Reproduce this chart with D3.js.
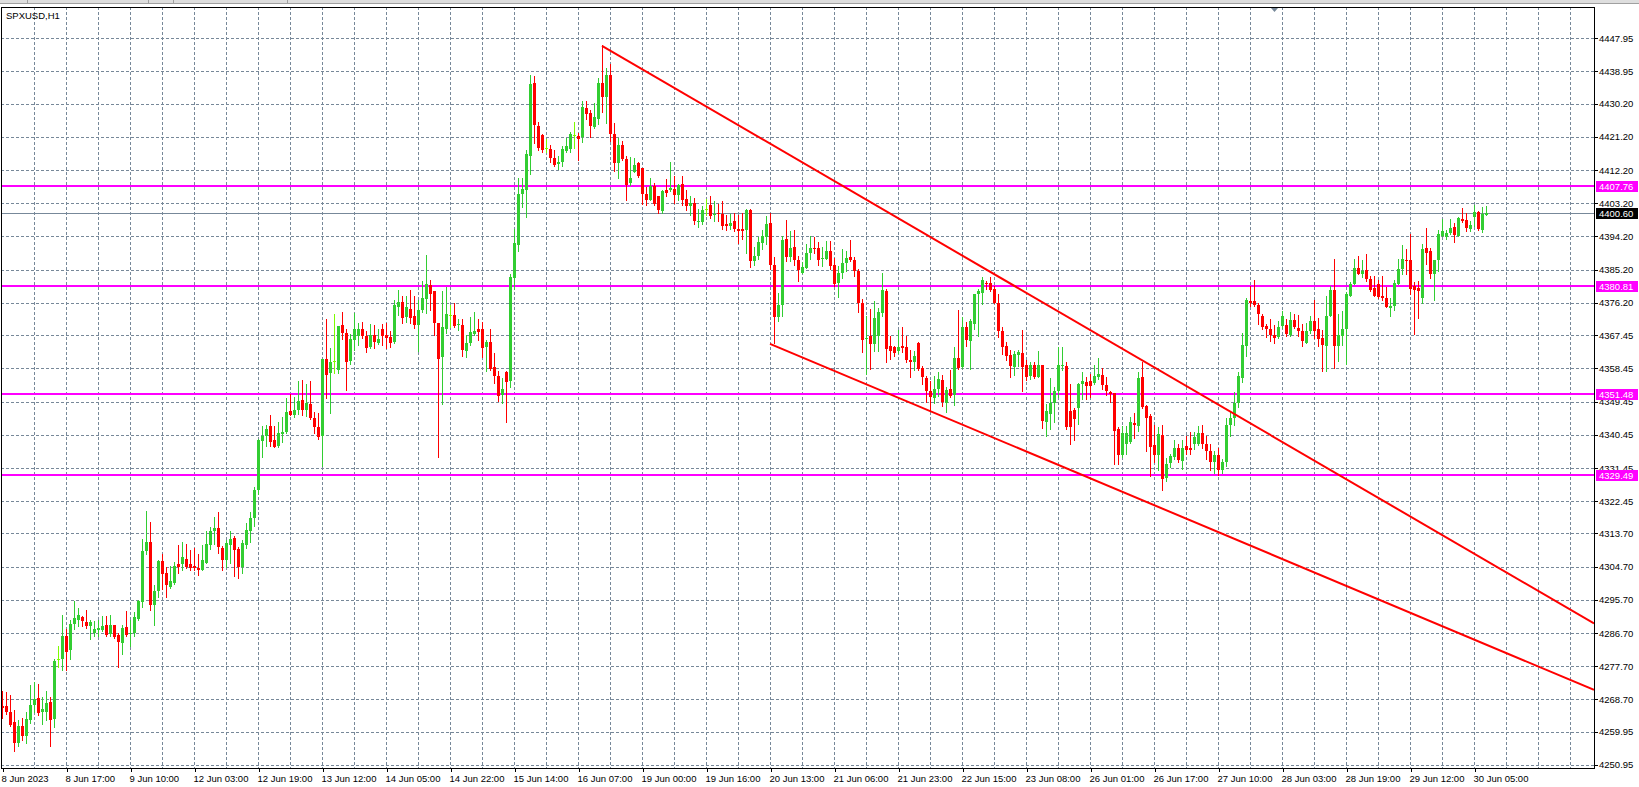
<!DOCTYPE html>
<html lang="en">
<head>
<meta charset="UTF-8">
<title>SPXUSD,H1</title>
<script src="https://cdnjs.cloudflare.com/ajax/libs/d3/7.8.5/d3.min.js"></script>
<style>
  body { margin: 0; background: #fff; overflow: hidden; }
  svg text { font-family: "Liberation Sans", Arial, sans-serif; font-size: 9.5px; fill: #000; }
  .grid line { stroke: #778899; stroke-width: 1; stroke-dasharray: 3,2; shape-rendering: crispEdges; }
  .wick { stroke-width: 1; shape-rendering: crispEdges; }
  .body { shape-rendering: crispEdges; }
  .level { stroke: #ff00ff; stroke-width: 2; shape-rendering: crispEdges; }
  .bid { stroke: #778899; stroke-width: 1; shape-rendering: crispEdges; }
  .trend { stroke: #ff0000; stroke-width: 2; fill: none; }
  .axis path { display: none; }
  .axis line { stroke: #000; shape-rendering: crispEdges; }
</style>
</head>
<body>
<div id="chart"></div>
<script>

// SPXUSD H1 candles, 8 Jun 2023 -> 30 Jun 2023 (one value per bar)
var opens = [
  4267.0,4266.8,4265.2,4262.5,4256.9,4261.4,4258.9,4263.2,4267.1,4269.0,
  4265.3,4265.4,4267.9,4263.4,4279.7,4279.6,4285.8,4282.2,4289.2,4290.3,
  4291.0,4289.8,4288.5,4286.7,4287.6,4287.6,4288.8,4286.5,4288.8,4286.1,
  4284.0,4288.3,4286.5,4286.7,4290.5,4295.1,4308.9,4311.5,4294.4,4298.2,
  4306.1,4303.1,4299.1,4300.2,4305.5,4305.5,4306.8,4305.3,4305.0,4304.4,
  4303.9,4305.7,4310.5,4314.3,4315.2,4309.8,4306.4,4310.5,4312.5,4309.5,
  4304.7,4310.5,4314.3,4317.9,4325.6,4338.7,4340.2,4342.7,4338.9,4337.3,
  4340.6,4341.1,4346.8,4345.7,4347.3,4349.9,4347.1,4348.7,4345.0,4342.5,
  4340.1,4361.0,4357.2,4360.5,4358.1,4370.1,4368.1,4360.4,4366.1,4367.2,
  4369.2,4367.2,4364.2,4367.4,4365.4,4369.2,4367.6,4366.9,4365.5,4375.0,
  4376.4,4372.4,4374.6,4372.6,4370.2,4374.4,4377.3,4381.0,4379.3,4370.8,
  4361.6,4369.2,4372.8,4373.0,4370.1,4370.3,4363.1,4365.2,4367.9,4369.0,
  4369.0,4364.3,4365.5,4358.9,4356.5,4351.1,4357.4,4355.0,4383.0,4392.0,
  4405.8,4406.9,4416.1,4435.7,4424.2,4421.7,4418.1,4418.0,4415.6,4413.9,
  4414.3,4417.5,4418.0,4421.6,4421.5,4421.1,4429.0,4427.8,4424.0,4426.1,
  4435.7,4432.0,4438.0,4422.0,4414.0,4419.0,4415.2,4408.7,4411.8,4414.1,
  4412.7,4405.7,4404.2,4407.8,4405.1,4401.0,4406.9,4406.9,4407.0,4405.5,
  4408.5,4404.3,4402.4,4403.4,4398.0,4398.0,4401.6,4402.8,4399.9,4400.7,
  4400.3,4397.7,4397.1,4398.3,4396.1,4396.1,4395.9,4401.5,4387.5,4389.0,
  4392.5,4394.1,4397.9,4386.6,4372.5,4375.5,4393.4,4388.7,4391.4,4387.7,
  4384.4,4385.7,4389.6,4391.1,4391.1,4388.0,4388.0,4390.4,4386.6,4381.5,
  4384.4,4387.1,4388.7,4387.7,4384.8,4376.3,4366.3,4367.2,4365.0,4367.2,
  4373.4,4379.4,4364.5,4364.3,4363.1,4364.4,4364.3,4360.8,4360.3,4365.3,
  4358.5,4355.8,4352.4,4350.3,4352.8,4355.3,4349.0,4352.8,4351.2,4361.3,
  4358.8,4369.7,4365.8,4370.4,4378.5,4378.8,4381.7,4381.5,4379.9,4376.3,
  4368.5,4364.4,4362.2,4358.8,4362.1,4362.6,4359.4,4356.4,4359.4,4356.2,
  4359.4,4344.0,4346.2,4349.0,4352.2,4359.0,4359.2,4347.0,4347.3,4347.6,
  4354.2,4354.8,4354.9,4354.4,4356.2,4356.7,4354.0,4352.1,4351.9,4341.9,
  4335.1,4337.9,4338.5,4343.7,4342.8,4356.2,4348.2,4345.5,4337.6,4334.9,
  4340.3,4328.8,4332.8,4334.4,4337.0,4333.3,4337.3,4337.0,4337.9,4338.0,
  4341.0,4338.0,4336.0,4333.0,4335.0,4331.0,4333.0,4343.0,4345.0,4349.0,
  4355.9,4364.6,4376.8,4376.8,4375.7,4372.6,4369.9,4369.2,4367.6,4367.0,
  4369.9,4370.1,4367.6,4371.5,4369.5,4368.6,4365.4,4368.5,4371.2,4369.0,
  4366.7,4364.6,4372.6,4379.6,4364.6,4367.2,4369.2,4378.2,4381.4,4385.7,
  4383.9,4385.2,4382.7,4380.3,4381.4,4378.0,4377.6,4374.8,4375.3,4381.4,
  4385.4,4387.9,4387.9,4380.7,4380.3,4377.5,4391.1,4390.2,4383.9,4387.7,
  4394.4,4394.1,4395.1,4396.8,4394.4,4398.9,4398.7,4396.2,4399.6,4400.8,
  4396.0,4399.9
];
var highs = [
  4271.1,4270.7,4269.8,4265.9,4263.2,4263.7,4265.4,4272.5,4273.4,4272.8,
  4269.5,4270.9,4269.5,4279.7,4283.1,4291.7,4287.8,4290.3,4295.5,4293.4,
  4291.4,4293.0,4290.3,4290.1,4290.3,4291.2,4291.2,4291.5,4289.0,4286.7,
  4288.8,4292.6,4290.3,4292.4,4295.6,4312.3,4319.9,4316.7,4299.8,4306.5,
  4308.2,4304.6,4305.0,4305.9,4310.5,4311.3,4310.9,4309.1,4309.8,4308.0,
  4310.7,4314.5,4315.4,4318.1,4319.6,4310.2,4312.0,4314.3,4313.1,4310.0,
  4311.8,4316.5,4319.5,4326.2,4339.3,4342.7,4343.0,4345.7,4342.7,4343.9,
  4345.4,4350.5,4351.5,4350.8,4355.1,4355.4,4354.1,4355.0,4346.6,4346.4,
  4360.9,4371.7,4364.0,4373.3,4369.9,4373.8,4369.2,4367.9,4373.5,4370.8,
  4371.1,4368.5,4370.6,4370.3,4369.2,4370.6,4370.8,4368.5,4377.1,4379.8,
  4378.2,4378.2,4379.8,4378.2,4376.9,4382.1,4389.3,4382.5,4379.4,4370.8,
  4379.4,4380.4,4375.5,4376.2,4371.7,4371.9,4367.6,4372.3,4373.8,4371.7,
  4371.0,4366.1,4369.0,4362.5,4357.7,4355.9,4357.7,4384.1,4396.2,4410.0,
  4410.0,4417.7,4438.0,4437.7,4425.3,4422.0,4420.6,4418.9,4417.7,4415.9,
  4418.6,4420.8,4422.6,4425.3,4422.2,4430.8,4430.8,4428.5,4430.3,4437.1,
  4446.0,4440.0,4441.0,4425.0,4421.0,4420.0,4415.9,4415.7,4415.5,4414.4,
  4412.7,4407.6,4410.1,4408.7,4405.3,4406.9,4409.8,4414.5,4410.7,4408.5,
  4410.7,4406.9,4405.2,4404.6,4401.6,4402.4,4404.3,4405.1,4403.7,4403.0,
  4403.7,4400.1,4400.4,4400.7,4400.1,4400.7,4401.6,4401.6,4391.4,4394.1,
  4395.9,4399.7,4400.7,4388.7,4378.8,4394.4,4398.6,4395.6,4395.9,4388.9,
  4387.2,4392.2,4394.4,4394.1,4392.6,4391.4,4392.9,4392.9,4388.4,4386.2,
  4390.7,4390.2,4393.2,4388.7,4385.3,4377.3,4372.6,4374.5,4376.7,4374.9,
  4384.2,4380.0,4367.2,4364.5,4368.8,4369.7,4367.2,4363.3,4363.1,4365.5,
  4359.0,4356.4,4354.9,4356.4,4357.6,4356.7,4353.5,4357.9,4364.3,4374.3,
  4372.4,4371.0,4371.9,4378.5,4380.1,4383.1,4382.2,4383.1,4380.8,4378.5,
  4369.7,4365.5,4363.3,4363.1,4363.3,4368.8,4360.6,4360.3,4360.3,4363.1,
  4359.4,4348.8,4355.8,4353.5,4364.3,4364.3,4360.1,4354.2,4347.6,4354.4,
  4357.6,4356.2,4357.0,4359.4,4361.3,4358.5,4356.2,4352.4,4351.9,4342.6,
  4342.8,4342.8,4345.3,4346.4,4357.6,4360.3,4348.5,4346.2,4343.1,4342.6,
  4343.1,4334.2,4335.3,4339.1,4338.0,4339.1,4340.1,4341.2,4341.2,4342.8,
  4343.0,4340.0,4338.0,4336.0,4337.0,4334.0,4345.0,4347.0,4352.0,4357.4,
  4368.1,4377.5,4380.7,4382.5,4376.2,4373.3,4370.6,4371.9,4370.3,4371.2,
  4373.9,4371.9,4373.7,4373.3,4372.9,4370.6,4370.8,4372.6,4377.1,4372.1,
  4368.8,4378.0,4380.7,4388.1,4373.3,4373.9,4379.1,4381.8,4388.1,4389.0,
  4387.9,4389.5,4383.4,4383.6,4382.5,4383.6,4380.5,4377.5,4382.5,4388.1,
  4392.0,4390.8,4395.0,4381.9,4382.0,4392.3,4396.5,4391.1,4387.7,4395.9,
  4398.9,4395.9,4398.9,4397.8,4399.6,4401.9,4400.5,4398.3,4402.8,4401.0,
  4402.2,4402.5
];
var lows = [
  4263.6,4264.8,4261.4,4254.7,4256.2,4257.6,4256.9,4262.3,4265.3,4264.6,
  4262.1,4263.0,4256.2,4261.2,4277.5,4276.7,4276.7,4279.7,4287.8,4288.5,
  4288.5,4288.1,4285.0,4285.8,4286.0,4287.2,4286.0,4286.0,4285.4,4277.6,
  4281.1,4286.0,4283.3,4286.0,4290.3,4293.7,4308.2,4293.0,4288.9,4296.4,
  4298.7,4296.4,4299.0,4300.0,4302.9,4303.7,4304.2,4303.8,4303.7,4302.4,
  4303.7,4305.6,4309.5,4310.9,4308.4,4303.7,4304.6,4305.6,4302.3,4301.6,
  4303.0,4309.8,4311.5,4315.8,4324.4,4334.4,4337.3,4337.3,4337.1,4337.1,
  4338.4,4340.9,4345.7,4345.4,4346.1,4345.7,4345.5,4344.8,4341.0,4339.4,
  4332.0,4350.5,4346.4,4357.2,4357.2,4366.3,4352.7,4359.5,4363.4,4364.9,
  4366.7,4363.0,4364.0,4364.0,4365.0,4364.9,4364.0,4364.3,4365.2,4372.8,
  4370.8,4371.0,4370.8,4369.4,4363.1,4373.7,4373.5,4374.2,4367.4,4334.5,
  4348.7,4368.1,4369.6,4369.7,4368.8,4361.8,4361.5,4364.7,4367.6,4366.1,
  4361.5,4357.7,4358.1,4354.5,4349.6,4349.0,4343.9,4353.5,4380.0,4390.4,
  4402.3,4399.6,4411.2,4419.5,4417.7,4417.2,4417.2,4414.3,4413.2,4412.4,
  4413.2,4417.2,4417.2,4418.1,4415.0,4419.9,4426.0,4421.3,4423.5,4424.7,
  4428.0,4425.0,4420.0,4412.0,4410.0,4415.0,4404.0,4408.2,4411.8,4410.3,
  4403.1,4402.8,4404.2,4402.8,4400.6,4400.6,4405.1,4406.4,4403.4,4404.0,
  4402.8,4401.3,4399.9,4397.7,4396.8,4397.7,4400.1,4399.2,4398.3,4398.3,
  4396.1,4395.9,4396.1,4395.6,4392.5,4393.5,4389.8,4386.0,4386.6,4388.1,
  4390.7,4392.3,4385.3,4365.3,4371.3,4372.6,4387.5,4387.5,4386.6,4382.1,
  4384.4,4385.7,4388.0,4389.8,4386.6,4386.2,4388.0,4385.3,4380.8,4377.9,
  4383.0,4384.8,4387.5,4383.6,4373.7,4362.9,4356.9,4358.4,4363.2,4363.2,
  4372.6,4360.2,4361.1,4361.7,4362.6,4362.8,4360.1,4356.2,4358.1,4358.1,
  4354.2,4349.2,4347.3,4349.0,4351.0,4348.2,4346.7,4350.8,4348.5,4358.2,
  4358.5,4364.6,4358.2,4369.0,4367.2,4375.8,4379.9,4379.4,4376.1,4367.0,
  4362.4,4360.6,4356.2,4356.7,4359.0,4352.2,4355.2,4355.5,4355.8,4356.2,
  4342.4,4340.1,4341.9,4344.0,4350.8,4357.9,4342.1,4338.0,4339.1,4343.5,
  4350.1,4350.1,4350.8,4354.2,4355.5,4352.8,4351.2,4349.2,4332.6,4332.4,
  4334.4,4335.3,4338.2,4339.7,4341.5,4347.6,4336.0,4329.4,4333.0,4330.8,
  4325.5,4328.0,4331.7,4334.0,4333.0,4331.2,4335.3,4335.3,4336.7,4337.6,
  4337.0,4334.0,4331.0,4330.0,4329.5,4330.0,4332.0,4340.0,4343.0,4348.0,
  4354.7,4361.8,4375.3,4375.3,4370.6,4369.2,4367.0,4365.8,4365.4,4366.7,
  4369.4,4367.2,4367.2,4369.4,4367.2,4364.6,4365.4,4368.1,4366.7,4364.6,
  4357.7,4357.7,4372.6,4358.6,4360.4,4364.9,4359.5,4378.0,4381.2,4383.9,
  4383.2,4382.1,4379.3,4378.2,4377.5,4376.9,4375.1,4372.6,4374.4,4381.2,
  4383.9,4383.9,4378.5,4367.8,4372.1,4376.2,4386.8,4383.0,4377.1,4384.8,
  4394.2,4393.5,4394.9,4392.6,4394.4,4398.0,4395.6,4395.6,4397.1,4396.0,
  4395.3,4399.9
];
var closes = [
  4266.3,4265.3,4261.9,4256.9,4261.6,4258.9,4263.5,4267.1,4268.7,4265.0,
  4266.0,4267.7,4263.0,4279.1,4279.7,4285.8,4281.5,4289.2,4290.8,4291.7,
  4289.9,4288.5,4289.6,4287.7,4288.1,4288.7,4286.3,4288.8,4285.6,4284.2,
  4288.1,4286.1,4286.7,4291.0,4295.5,4308.9,4311.3,4294.4,4298.2,4306.1,
  4302.6,4299.8,4300.8,4305.0,4304.7,4307.3,4304.7,4304.4,4304.2,4303.8,
  4306.6,4310.9,4314.3,4315.2,4310.0,4306.5,4311.1,4312.3,4309.3,4304.7,
  4311.0,4314.7,4317.9,4325.6,4339.1,4340.2,4342.1,4338.4,4337.1,4340.8,
  4341.3,4346.7,4345.9,4347.3,4349.7,4347.3,4349.0,4345.0,4342.6,4339.9,
  4360.9,4356.7,4360.3,4360.5,4369.9,4368.1,4360.1,4366.3,4369.2,4369.2,
  4367.2,4364.0,4367.4,4365.6,4366.3,4367.2,4366.7,4365.4,4375.5,4376.4,
  4372.1,4375.0,4372.0,4370.1,4374.4,4377.5,4381.2,4378.7,4370.8,4361.1,
  4369.6,4373.3,4372.8,4369.9,4370.6,4363.4,4365.2,4368.3,4368.7,4368.4,
  4364.0,4365.5,4358.3,4356.3,4350.9,4352.9,4354.7,4383.2,4392.4,4405.8,
  4407.0,4416.6,4435.5,4424.4,4418.1,4417.7,4418.1,4415.6,4413.6,4414.5,
  4418.0,4418.8,4421.9,4421.6,4420.7,4429.2,4427.4,4424.2,4426.5,4435.7,
  4432.0,4438.0,4422.0,4414.0,4419.0,4415.1,4408.2,4410.1,4413.6,4410.5,
  4405.7,4404.0,4407.8,4403.1,4401.3,4406.6,4406.1,4407.3,4405.5,4408.2,
  4404.0,4402.4,4403.4,4398.3,4398.5,4401.5,4401.6,4399.8,4400.3,4400.3,
  4397.1,4397.0,4397.9,4396.1,4395.6,4395.6,4401.5,4387.5,4389.0,4392.8,
  4394.4,4397.7,4386.6,4372.5,4375.5,4393.2,4388.7,4391.1,4387.8,4385.1,
  4385.9,4389.6,4391.0,4390.7,4387.8,4388.4,4390.4,4386.2,4381.2,4384.4,
  4387.1,4388.4,4387.7,4384.8,4376.1,4366.2,4366.8,4365.0,4372.2,4373.6,
  4379.7,4363.6,4363.2,4362.7,4364.3,4364.0,4360.6,4360.1,4361.9,4358.2,
  4356.1,4352.4,4350.6,4352.8,4355.5,4349.2,4352.6,4351.0,4361.3,4358.5,
  4369.7,4366.1,4371.3,4378.5,4379.5,4382.5,4381.5,4379.7,4376.3,4368.5,
  4364.3,4361.7,4359.2,4362.4,4362.8,4358.8,4356.2,4359.4,4356.2,4359.4,
  4344.2,4347.0,4349.0,4352.2,4359.4,4359.4,4342.6,4342.6,4344.6,4354.2,
  4354.9,4353.7,4353.7,4356.4,4357.0,4354.0,4352.4,4351.5,4341.5,4334.9,
  4341.0,4341.0,4344.0,4343.1,4355.8,4347.9,4345.1,4337.1,4334.9,4340.6,
  4328.5,4332.4,4334.6,4337.0,4333.5,4337.0,4336.4,4336.2,4339.9,4341.0,
  4338.0,4336.0,4333.0,4335.0,4331.0,4333.0,4343.0,4345.0,4349.0,4356.4,
  4364.9,4376.9,4376.2,4375.7,4373.3,4369.7,4369.2,4367.6,4366.7,4369.7,
  4372.6,4367.9,4371.5,4369.7,4368.5,4365.8,4368.6,4371.2,4368.7,4366.3,
  4364.9,4372.6,4379.6,4364.5,4367.4,4369.2,4378.5,4381.4,4385.7,4384.1,
  4384.9,4382.7,4379.8,4378.2,4377.8,4377.5,4375.1,4375.3,4381.6,4385.4,
  4388.1,4387.7,4380.0,4379.6,4379.4,4390.8,4389.7,4383.9,4387.7,4395.0,
  4395.6,4395.1,4396.5,4394.7,4399.2,4398.4,4396.5,4397.4,4400.8,4396.2,
  4400.3,4400.6
];

// price scale labels
var priceTicks = [4447.95, 4438.95, 4430.20, 4421.20, 4412.20, 4403.20, 4394.20, 4385.20,
  4376.20, 4367.45, 4358.45, 4349.45, 4340.45, 4331.45, 4322.45, 4313.70, 4304.70,
  4295.70, 4286.70, 4277.70, 4268.70, 4259.95, 4250.95];

// time scale labels (one every 16 bars)
var timeLabels = ["8 Jun 2023", "8 Jun 17:00", "9 Jun 10:00", "12 Jun 03:00", "12 Jun 19:00",
  "13 Jun 12:00", "14 Jun 05:00", "14 Jun 22:00", "15 Jun 14:00", "16 Jun 07:00",
  "19 Jun 00:00", "19 Jun 16:00", "20 Jun 13:00", "21 Jun 06:00", "21 Jun 23:00",
  "22 Jun 15:00", "23 Jun 08:00", "26 Jun 01:00", "26 Jun 17:00", "27 Jun 10:00",
  "28 Jun 03:00", "28 Jun 19:00", "29 Jun 12:00", "30 Jun 05:00"];

// horizontal levels and the bid line
var levels = [4407.76, 4380.81, 4351.48, 4329.49];
var bidPrice = 4400.60;

// trend lines: [bar, price] anchors, drawn as rays to the right
var upperTrend = [[150, 4445.9], [398, 4289.3]];
var lowerTrend = [[192, 4365.1], [398, 4271.3]];

var width = 1639, height = 787,
    plotL = 1, plotT = 7, plotR = 1594, plotB = 768;

var svg = d3.select('#chart').append('svg')
    .attr('width', width)
    .attr('height', height);

var x = d3.scaleLinear().domain([0, 398]).range([2, 1594]);
var y = d3.scaleLinear().domain([4250.12, 4456.41]).range([plotB, plotT]);

// window strip on top
svg.append('rect').attr('x', 0).attr('y', 0).attr('width', width).attr('height', 4).attr('fill', '#dedede');
svg.append('line').attr('x1', 0).attr('x2', width).attr('y1', 3.5).attr('y2', 3.5)
  .attr('stroke', '#a0a0a0').attr('shape-rendering', 'crispEdges');
[27, 148, 173, 287].forEach(function (sx) {
  svg.append('line').attr('x1', sx + 0.5).attr('x2', sx + 0.5).attr('y1', 0).attr('y2', 3)
    .attr('stroke', '#a0a0a0').attr('shape-rendering', 'crispEdges');
});

svg.append('clipPath').attr('id', 'plot')
  .append('rect').attr('x', plotL).attr('y', plotT).attr('width', plotR - plotL).attr('height', plotB - plotT);

// grid
var grid = svg.append('g').attr('class', 'grid');
grid.selectAll('line.h').data(priceTicks).enter().append('line')
  .attr('class', 'h')
  .attr('x1', plotL).attr('x2', plotR)
  .attr('y1', function (d) { return Math.round(y(d)) + 0.5; })
  .attr('y2', function (d) { return Math.round(y(d)) + 0.5; });
grid.selectAll('line.v').data(d3.range(8, 398, 8)).enter().append('line')
  .attr('class', 'v')
  .attr('x1', function (d) { return x(d) + 0.5; })
  .attr('x2', function (d) { return x(d) + 0.5; })
  .attr('y1', plotT).attr('y2', plotB);

// levels
svg.selectAll('line.level').data(levels).enter().append('line')
  .attr('class', 'level')
  .attr('x1', plotL).attr('x2', plotR)
  .attr('y1', function (d) { return Math.round(y(d)); })
  .attr('y2', function (d) { return Math.round(y(d)); });

svg.append('line').attr('class', 'bid')
  .attr('x1', plotL).attr('x2', plotR)
  .attr('y1', Math.round(y(bidPrice)) + 0.5).attr('y2', Math.round(y(bidPrice)) + 0.5);

// candles
var bars = d3.range(opens.length);
function col(i) {
  if (closes[i] > opens[i]) return '#32cd32';
  if (closes[i] < opens[i]) return '#ff0000';
  return '#7cfc00';
}
var candles = svg.append('g').attr('clip-path', 'url(#plot)');
candles.selectAll('line.wick').data(bars).enter().append('line')
  .attr('class', 'wick')
  .attr('x1', function (i) { return x(i) + 0.5; })
  .attr('x2', function (i) { return x(i) + 0.5; })
  .attr('y1', function (i) { return Math.round(y(highs[i])); })
  .attr('y2', function (i) { return Math.round(y(lows[i])) + 1; })
  .attr('stroke', col);
candles.selectAll('rect.body').data(bars).enter().append('rect')
  .attr('class', 'body')
  .attr('x', function (i) { return x(i) - 1; })
  .attr('width', 3)
  .attr('y', function (i) { return Math.round(y(Math.max(opens[i], closes[i]))); })
  .attr('height', function (i) {
    var t = Math.round(y(Math.max(opens[i], closes[i]))),
        b = Math.round(y(Math.min(opens[i], closes[i])));
    return Math.max(1, b - t);
  })
  .attr('fill', col);

// trend lines
function ray(a) {
  var slope = (a[1][1] - a[0][1]) / (a[1][0] - a[0][0]);
  var endBar = x.invert(plotR);
  return [[a[0][0], a[0][1]], [endBar, a[0][1] + slope * (endBar - a[0][0])]];
}
var line = d3.line().x(function (d) { return x(d[0]); }).y(function (d) { return y(d[1]); });
svg.append('g').attr('clip-path', 'url(#plot)')
  .selectAll('path').data([ray(upperTrend), ray(lowerTrend)]).enter().append('path')
  .attr('class', 'trend')
  .attr('d', line);

// frame
svg.append('rect').attr('x', plotL + 0.5).attr('y', plotT + 0.5)
  .attr('width', plotR - plotL).attr('height', plotB - plotT)
  .attr('fill', 'none').attr('stroke', '#000').attr('shape-rendering', 'crispEdges');

// shift marker
svg.append('path').attr('d', 'M1271,8 L1278,8 L1274.5,12 Z').attr('fill', '#778899');

// axes
var yAxis = d3.axisRight(y).tickValues(priceTicks).tickSize(4).tickPadding(1)
  .tickFormat(d3.format('.2f'));
var gy = svg.append('g').attr('class', 'axis').attr('transform', 'translate(' + plotR + ',0)').call(yAxis);
gy.selectAll('text').attr('font-family', null).attr('font-size', null);
gy.attr('font-family', null).attr('font-size', null);

var xAxis = d3.axisBottom(x).tickValues(d3.range(0, timeLabels.length * 16, 16)).tickSize(4).tickPadding(3)
  .tickFormat(function (d) { return timeLabels[d / 16]; });
var gx = svg.append('g').attr('class', 'axis').attr('transform', 'translate(0.5,' + plotB + ')').call(xAxis);
gx.attr('font-family', null).attr('font-size', null);
gx.selectAll('text').attr('text-anchor', 'start').attr('x', -1.5);

// price tags on the axis
var tags = levels.map(function (d) { return { v: d, bg: '#ff00ff' }; })
  .concat([{ v: bidPrice, bg: '#000000' }]);
var tg = svg.selectAll('g.tag').data(tags).enter().append('g').attr('class', 'tag');
tg.append('rect')
  .attr('x', plotR + 2).attr('width', 42)
  .attr('y', function (d) { return Math.round(y(d.v)) - 5; })
  .attr('height', 11)
  .attr('fill', function (d) { return d.bg; })
  .attr('shape-rendering', 'crispEdges');
tg.append('text')
  .attr('x', plotR + 5)
  .attr('y', function (d) { return Math.round(y(d.v)) + 4; })
  .style('fill', '#fff')
  .text(function (d) { return d.v.toFixed(2); });

// title
svg.append('text').attr('x', 6).attr('y', 19).text('SPXUSD,H1');

</script>
</body>
</html>
